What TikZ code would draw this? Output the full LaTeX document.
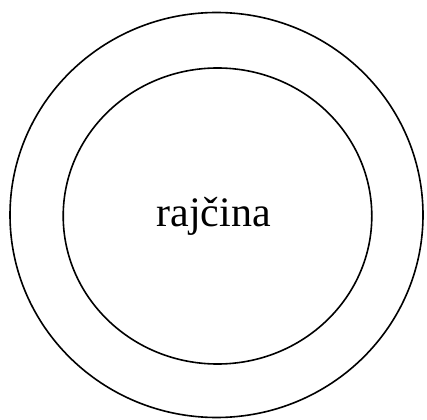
\documentclass[tikz,border=0pt]{standalone}
\usepackage{fontspec}
\setmainfont{Liberation Serif}
\begin{document}
\begin{tikzpicture}[x=1pt,y=-1pt,
  ring/.style={draw=black,line width=1.6pt},
  lbl/.style={font=\fontsize{42}{50}\selectfont,inner sep=0pt,anchor=base}]
\useasboundingbox (0,0) rectangle (427,419);
\draw[ring] (216.5,215) ellipse [x radius=206.5, y radius=202.5];
\draw[ring] (217.5,216) ellipse [x radius=154.3, y radius=148];
\node[lbl] (t) at (213.5,226) {rajčina};
\end{tikzpicture}
\end{document}
